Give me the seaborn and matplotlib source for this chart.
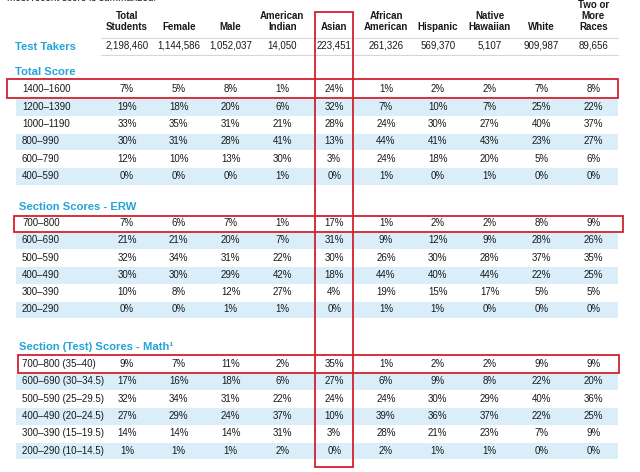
"""SAT score distribution table by gender and race/ethnicity, with highlighted rows."""

import matplotlib
matplotlib.use("Agg")
import matplotlib.pyplot as plt
from matplotlib.patches import Rectangle
import seaborn as sns

GROUPS = ["Total\nStudents", "Female", "Male", "American\nIndian", "Asian",
          "African\nAmerican", "Hispanic", "Native\nHawaiian", "White",
          "Two or\nMore\nRaces"]
TEST_TAKERS = ["2,198,460", "1,144,586", "1,052,037", "14,050", "223,451",
               "261,326", "569,370", "5,107", "909,987", "89,656"]

TOTAL_BANDS = ["1400\u20131600", "1200\u20131390", "1000\u20131190",
               "800\u2013990", "600\u2013790", "400\u2013590"]
TOTAL_PCT = [
    [7, 5, 8, 1, 24, 1, 2, 2, 7, 8],
    [19, 18, 20, 6, 32, 7, 10, 7, 25, 22],
    [33, 35, 31, 21, 28, 24, 30, 27, 40, 37],
    [30, 31, 28, 41, 13, 44, 41, 43, 23, 27],
    [12, 10, 13, 30, 3, 24, 18, 20, 5, 6],
    [0, 0, 0, 1, 0, 1, 0, 1, 0, 0],
]

ERW_BANDS = ["700\u2013800", "600\u2013690", "500\u2013590",
             "400\u2013490", "300\u2013390", "200\u2013290"]
ERW_PCT = [
    [7, 6, 7, 1, 17, 1, 2, 2, 8, 9],
    [21, 21, 20, 7, 31, 9, 12, 9, 28, 26],
    [32, 34, 31, 22, 30, 26, 30, 28, 37, 35],
    [30, 30, 29, 42, 18, 44, 40, 44, 22, 25],
    [10, 8, 12, 27, 4, 19, 15, 17, 5, 5],
    [0, 0, 1, 1, 0, 1, 1, 0, 0, 0],
]

MATH_BANDS = ["700\u2013800 (35\u201340)", "600\u2013690 (30\u201334.5)",
              "500\u2013590 (25\u201329.5)", "400\u2013490 (20\u201324.5)",
              "300\u2013390 (15\u201319.5)", "200\u2013290 (10\u201314.5)"]
MATH_PCT = [
    [9, 7, 11, 2, 35, 1, 2, 2, 9, 9],
    [17, 16, 18, 6, 27, 6, 9, 8, 22, 20],
    [32, 34, 31, 22, 24, 24, 30, 29, 40, 36],
    [27, 29, 24, 37, 10, 39, 36, 37, 22, 25],
    [14, 14, 14, 31, 3, 28, 21, 23, 7, 9],
    [1, 1, 1, 2, 0, 2, 1, 1, 0, 0],
]

SECTIONS = [
    ("Total Score", TOTAL_BANDS, TOTAL_PCT),
    ("Section Scores - ERW", ERW_BANDS, ERW_PCT),
    ("Section (Test) Scores - Math\u00b9", MATH_BANDS, MATH_PCT),
]

BLUE = "#23A3D9"
STRIPE = "#DAEEF9"
RED = "#D2202F"
TXT = "#1a1a1a"
FS = 7.0

# layout (pixels)
COL_X0, COL_W = 127, 51.8
ROW_H = 17.3
SECTION_Y = [(72, 90), (207, 223.5), (347, 364.5)]  # header y, first row y
HEAD_X = [15, 19, 19]
ROW_BOXES = [(7, 79, 611, 19), (14, 216, 609, 16), (18, 355, 601, 18)]
COL_BOX = (315, 12, 38, 455)

sns.set_theme(style="white")
plt.rcParams["font.family"] = ["Liberation Sans", "DejaVu Sans"]

fig = plt.figure(figsize=(6.4, 4.72), dpi=100)
ax = fig.add_axes([0, 0, 1, 1])
ax.set_xlim(0, 640)
ax.set_ylim(472, 0)
ax.axis("off")

col_x = [COL_X0 + COL_W * i for i in range(len(GROUPS))]

# sliver of the preceding paragraph, cut off at the top edge
ax.text(7, 0.8, "most recent score is summarized.", fontsize=7.2, color=TXT,
        va="baseline", ha="left")

# column headers
for x, g in zip(col_x, GROUPS):
    ax.text(x, 32.5, g, fontsize=FS, fontweight="bold", color=TXT,
            ha="center", va="bottom", linespacing=1.15)

# test takers row
ax.text(15, 47, "Test Takers", fontsize=8.1, fontweight="bold", color=BLUE,
        ha="left", va="center")
for x, v in zip(col_x, TEST_TAKERS):
    ax.text(x, 46, v, fontsize=FS, color=TXT, ha="center", va="center")
for yl in (38, 55):
    ax.plot([101, 618], [yl, yl], color="#d6d6d6", lw=0.8)

# score sections
for (title, bands, pct), (hy, ry), hx in zip(SECTIONS, SECTION_Y, HEAD_X):
    ax.text(hx, hy, title, fontsize=8.1, fontweight="bold", color=BLUE,
            ha="left", va="center")
    for r, (band, vals) in enumerate(zip(bands, pct)):
        y = ry + r * ROW_H
        if r % 2 == 1:
            ax.barh(y, 602, left=16, height=ROW_H - 0.8, color=STRIPE, lw=0)
        ax.text(22, y - 0.5, band, fontsize=FS, color=TXT, ha="left",
                va="center")
        for x, v in zip(col_x, vals):
            ax.text(x, y - 0.5, f"{v}%", fontsize=FS, color=TXT,
                    ha="center", va="center")

# red highlight boxes
for bx, by, bw, bh in ROW_BOXES + [COL_BOX]:
    ax.add_patch(Rectangle((bx, by), bw, bh, fill=False, edgecolor=RED,
                           lw=1.3, zorder=5))

fig.savefig("out.png", dpi=100)
